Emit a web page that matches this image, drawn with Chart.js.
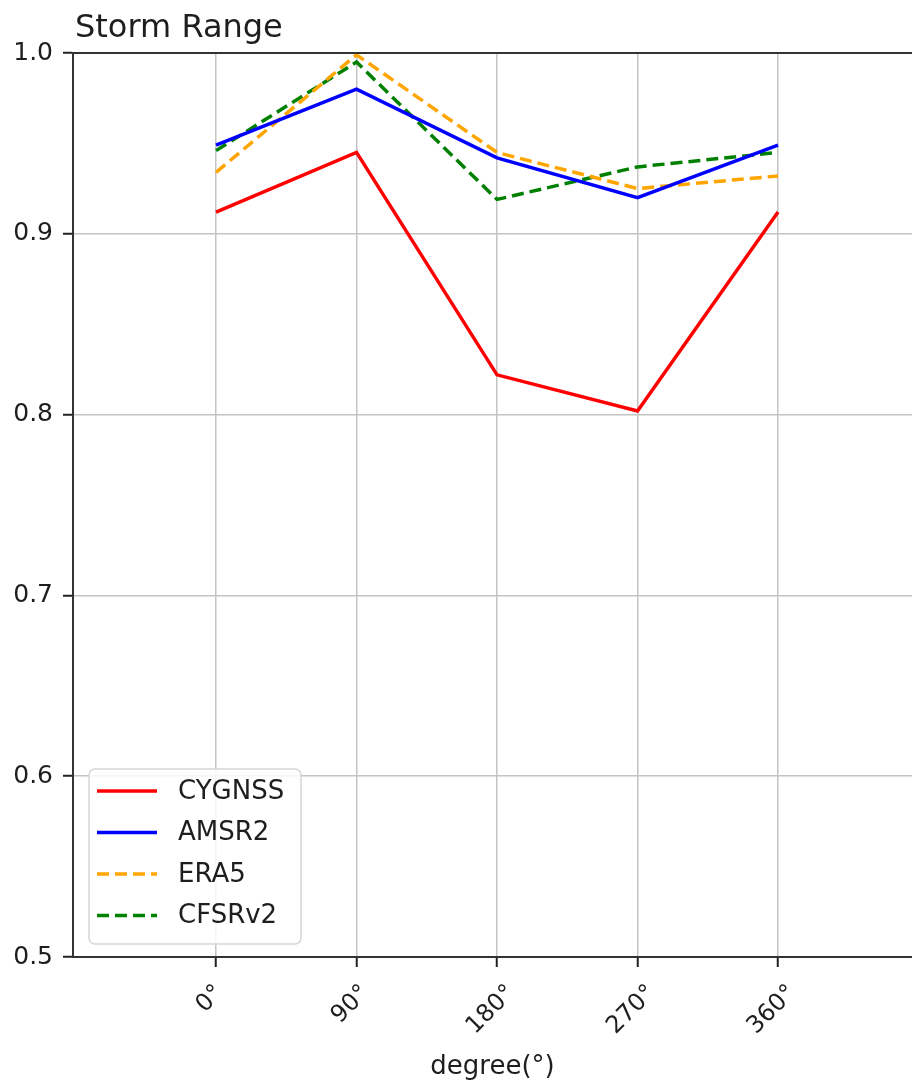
<!DOCTYPE html>
<html>
<head>
<meta charset="utf-8">
<title>Storm Range</title>
<script src="https://cdn.jsdelivr.net/npm/chart.js@4.4.1/dist/chart.umd.min.js"></script>
<style>
  html, body { margin: 0; padding: 0; background: #fff; overflow: hidden; }
  #wrap { position: relative; width: 912px; height: 1086px; }
</style>
</head>
<body>
<div id="wrap"><canvas id="chart"></canvas></div>
<script>
// values
const degrees = [0, 90, 180, 270, 360];
const cygnss = [0.912, 0.945, 0.822, 0.802, 0.912];
const amsr2 = [0.949, 0.980, 0.942, 0.920, 0.949];
const era5 = [0.934, 0.999, 0.945, 0.925, 0.932];
const cfsrv2 = [0.946, 0.995, 0.919, 0.937, 0.945];
const seriesNames = ['CYGNSS', 'AMSR2', 'ERA5', 'CFSRv2'];
const chartTitle = 'Storm Range';
const xTitle = 'degree(°)';

const FONT = "'DejaVu Sans', sans-serif";
const TEXT = '#1e1e1e';

function toPoints(values) {
  return degrees.map((d, i) => ({ x: d, y: values[i] }));
}

// title drawn at the left edge of the plot, like matplotlib's loc='left'
const titlePlugin = {
  id: 'leftTitle',
  afterDraw(chart) {
    const ctx = chart.ctx;
    ctx.save();
    ctx.font = '32px ' + FONT;
    ctx.fillStyle = TEXT;
    ctx.textAlign = 'left';
    ctx.textBaseline = 'alphabetic';
    ctx.fillText(chartTitle, chart.chartArea.left + 2, 37);
    ctx.restore();
  }
};

// top spine (the right spine is cut off in the reference)
const topSpine = {
  id: 'topSpine',
  afterDraw(chart) {
    const { left, right, top } = chart.chartArea;
    const ctx = chart.ctx;
    ctx.save();
    ctx.strokeStyle = '#333';
    ctx.lineWidth = 2;
    ctx.beginPath();
    ctx.moveTo(left - 1, top);
    ctx.lineTo(right, top);
    ctx.stroke();
    ctx.restore();
  }
};

// rotated x tick labels, centred under each tick as matplotlib does
const xLabels = {
  id: 'xLabels',
  afterDraw(chart) {
    const scale = chart.scales.x;
    const ctx = chart.ctx;
    const size = 24;
    ctx.save();
    ctx.font = size + 'px ' + FONT;
    ctx.fillStyle = TEXT;
    ctx.textAlign = 'center';
    ctx.textBaseline = 'middle';
    degrees.forEach(v => {
      const label = v + '°';
      const w = ctx.measureText(label).width;
      const side = (w + size * 0.76) * Math.SQRT1_2;
      const px = scale.getPixelForValue(v) - 6;
      const py = chart.chartArea.bottom + 26 + side / 2;
      ctx.save();
      ctx.translate(px, py);
      ctx.rotate(-Math.PI / 4);
      ctx.fillText(label, 0, 0);
      ctx.restore();
    });
    ctx.restore();
  }
};

// legend box in the lower left corner of the plot
const innerLegend = {
  id: 'innerLegend',
  afterDraw(chart) {
    const ctx = chart.ctx;
    const area = chart.chartArea;
    const x = area.left + 16, w = 212, h = 175;
    const y = area.bottom - 13 - h;
    ctx.save();
    ctx.fillStyle = 'rgba(255,255,255,0.85)';
    ctx.strokeStyle = '#d6d6d6';
    ctx.lineWidth = 1.5;
    ctx.beginPath();
    ctx.roundRect(x, y, w, h, 6);
    ctx.fill();
    ctx.stroke();
    ctx.font = '26px ' + FONT;
    ctx.textBaseline = 'middle';
    ctx.fillStyle = TEXT;
    chart.data.datasets.forEach((ds, i) => {
      const cy = y + 22 + i * 41.5;
      ctx.strokeStyle = ds.borderColor;
      ctx.lineWidth = ds.borderWidth;
      ctx.setLineDash(ds.borderDash || []);
      ctx.beginPath();
      ctx.moveTo(x + 8, cy);
      ctx.lineTo(x + 68, cy);
      ctx.stroke();
      ctx.setLineDash([]);
      ctx.fillText(ds.label, x + 89, cy + 1);
    });
    ctx.restore();
  }
};

function makeSet(label, values, color, dash) {
  return {
    label: label,
    data: toPoints(values),
    borderColor: color,
    backgroundColor: color,
    borderWidth: 3.5,
    borderDash: dash,
    pointRadius: 0,
    fill: false,
    tension: 0
  };
}

const ctx = document.getElementById('chart').getContext('2d');
new Chart(ctx, {
  type: 'line',
  data: {
    datasets: [
      makeSet(seriesNames[0], cygnss, '#ff0000', []),
      makeSet(seriesNames[1], amsr2, '#0000ff', []),
      makeSet(seriesNames[2], era5, '#ffa500', [12, 6]),
      makeSet(seriesNames[3], cfsrv2, '#008000', [12, 6])
    ]
  },
  options: {
    responsive: true,
    maintainAspectRatio: false,
    animation: false,
    devicePixelRatio: 1,
    layout: { padding: { top: 53, right: 0, left: 0, bottom: 0 } },
    plugins: {
      legend: { display: false },
      title: { display: false },
      tooltip: { enabled: false }
    },
    scales: {
      x: {
        type: 'linear',
        min: -91.6,
        max: 445.8,
        afterBuildTicks: scale => {
          scale.ticks = degrees.map(v => ({ value: v }));
        },
        afterFit: scale => { scale.height = 129; },
        ticks: { display: false },
        grid: {
          color: '#c4c4c4',
          lineWidth: 1.5,
          tickColor: '#222',
          tickLength: 10,
          tickWidth: 2
        },
        border: { color: '#333', width: 2 },
        title: {
          display: true,
          text: xTitle,
          color: TEXT,
          padding: { top: 2, bottom: 3 },
          font: { family: FONT, size: 26 }
        }
      },
      y: {
        min: 0.5,
        max: 1.0,
        afterFit: scale => { scale.width = 73; },
        ticks: {
          stepSize: 0.1,
          callback: v => Number(v).toFixed(1),
          color: TEXT,
          padding: 10,
          font: { family: FONT, size: 25 }
        },
        grid: {
          color: '#c4c4c4',
          lineWidth: 1.5,
          tickColor: '#222',
          tickLength: 10,
          tickWidth: 2
        },
        border: { color: '#333', width: 2 }
      }
    }
  },
  plugins: [titlePlugin, topSpine, xLabels, innerLegend]
});
</script>
</body>
</html>
